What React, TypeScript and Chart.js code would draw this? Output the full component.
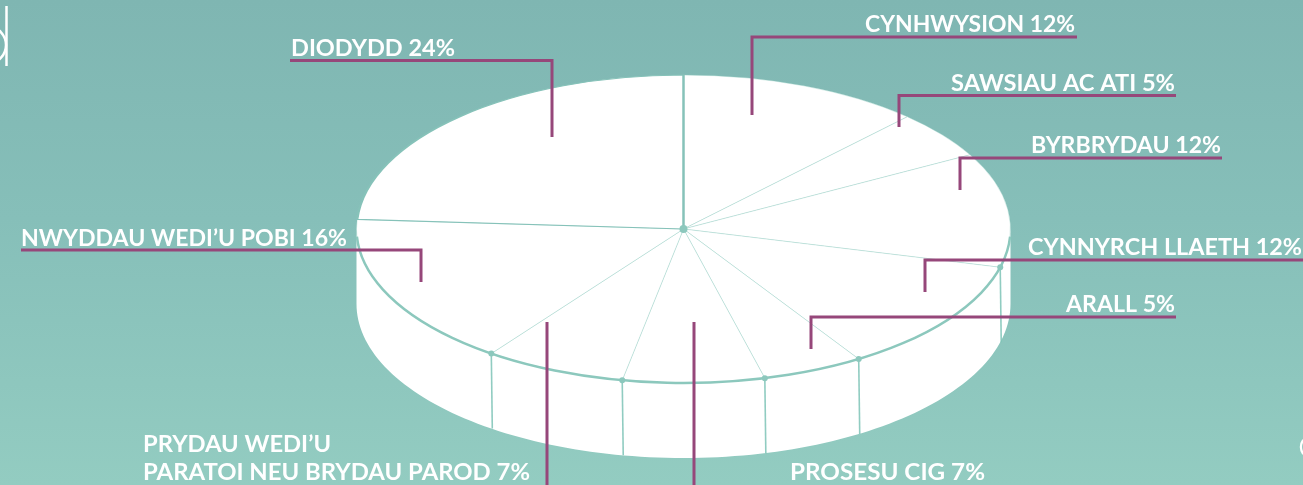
import React, { useEffect, useRef } from "react";
import { Chart, registerables } from "chart.js";

Chart.register(...registerables);

// ---- data ----
const categories: string[][] = [
  ["CYNHWYSION"],
  ["SAWSIAU AC ATI"],
  ["BYRBRYDAU"],
  ["CYNNYRCH LLAETH"],
  ["ARALL"],
  ["PROSESU CIG"],
  ["PRYDAU WEDI’U", "PARATOI NEU BRYDAU PAROD"],
  ["NWYDDAU WEDI’U POBI"],
  ["DIODYDD"],
];
const shares = [12, 5, 12, 12, 5, 7, 7, 16, 24];

// ---- layout (label placement, leader lines) ----
const labelLayout = [
  { left: 865, rights: [1075], baselines: [32], ax: 752, ay: 115, hy: 37, far: 1077 },
  { left: 951, rights: [1175], baselines: [91], ax: 899, ay: 127, hy: 95.5, far: 1176 },
  { left: 1031, rights: [1221], baselines: [153], ax: 960, ay: 190, hy: 158, far: 1222 },
  { left: 1028, rights: [1302], baselines: [254.5], ax: 925, ay: 292, hy: 260, far: 1303 },
  { left: 1066, rights: [1175], baselines: [311.5], ax: 811, ay: 349, hy: 317, far: 1176 },
  { left: 790, rights: [985], baselines: [480], ax: 694, ay: 322, hy: 495, far: 986 },
  { left: 143, rights: [331, 530], baselines: [452, 480], ax: 547, ay: 322, hy: 495, far: 143 },
  { left: 21, rights: [347], baselines: [245.5], ax: 421, ay: 282, hy: 250, far: 21 },
  { left: 291, rights: [455], baselines: [55.5], ax: 552, ay: 137, hy: 60.5, far: 290 },
];

const W = 1303;
const H = 485;
const RADIUS = 327;
const TILT = 154 / 327;
const DEPTH = 75;
const TEAL_EDGE = "#8cc8bd";
const LEADER = "#96477a";

function ellPt(cx: number, cy: number, r: number, a: number, dy = 0): [number, number] {
  return [cx + r * Math.cos(a), cy + r * TILT * Math.sin(a) + dy];
}

const tiltPlugin = {
  id: "tilt3d",
  beforeDatasetsDraw(chart: any) {
    const meta = chart.getDatasetMeta(0);
    const ctx: CanvasRenderingContext2D = chart.ctx;
    const el = meta.data[0];
    const cx = el.x, cy = el.y, R = el.outerRadius;
    // side wall
    ctx.save();
    ctx.beginPath();
    const N = 120;
    for (let i = 0; i <= N; i++) {
      const a = (Math.PI * i) / N;
      const [x, y] = ellPt(cx, cy, R, a);
      if (i === 0) ctx.moveTo(x, y); else ctx.lineTo(x, y);
    }
    for (let i = N; i >= 0; i--) {
      const a = (Math.PI * i) / N;
      const [x, y] = ellPt(cx, cy, R, a, DEPTH);
      ctx.lineTo(x, y);
    }
    ctx.closePath();
    ctx.fillStyle = "#ffffff";
    ctx.fill();
    // separators on the wall
    ctx.strokeStyle = "rgba(125,195,182,0.85)";
    ctx.lineWidth = 1.6;
    meta.data.forEach((arc: any) => {
      let b = arc.startAngle % (2 * Math.PI);
      if (b < 0) b += 2 * Math.PI;
      if (b > 0.02 && b < Math.PI - 0.02) {
        const [x0, y0] = ellPt(cx, cy, R, b);
        const [x1, y1] = ellPt(cx, cy, R, b, DEPTH);
        ctx.beginPath();
        ctx.moveTo(x0, y0);
        ctx.lineTo(x1 + 1, y1);
        ctx.stroke();
      }
    });
    ctx.restore();
    // squash the top face
    ctx.save();
    ctx.translate(cx, cy);
    ctx.scale(1, TILT);
    ctx.translate(-cx, -cy);
  },
  afterDatasetsDraw(chart: any) {
    const ctx: CanvasRenderingContext2D = chart.ctx;
    ctx.restore();
    const meta = chart.getDatasetMeta(0);
    const el = meta.data[0];
    const cx = el.x, cy = el.y, R = el.outerRadius;
    ctx.save();
    ctx.strokeStyle = TEAL_EDGE;
    ctx.lineWidth = 2.5;
    ctx.beginPath();
    ctx.ellipse(cx, cy, R, R * TILT, 0, 0.05, Math.PI - 0.05);
    ctx.stroke();
    ctx.fillStyle = TEAL_EDGE;
    meta.data.forEach((arc: any) => {
      let b = arc.startAngle % (2 * Math.PI);
      if (b < 0) b += 2 * Math.PI;
      if (b > 0.02 && b < Math.PI - 0.02) {
        const [x0, y0] = ellPt(cx, cy, R, b);
        ctx.beginPath();
        ctx.arc(x0, y0, 3, 0, Math.PI * 2);
        ctx.fill();
      }
    });
    ctx.beginPath();
    ctx.arc(cx, cy, 4, 0, Math.PI * 2);
    ctx.fill();
    ctx.restore();
  },
};

const labelPlugin = {
  id: "calloutLabels",
  afterDraw(chart: any) {
    const ctx: CanvasRenderingContext2D = chart.ctx;
    ctx.save();
    // leader lines
    ctx.strokeStyle = LEADER;
    ctx.lineWidth = 3;
    ctx.lineJoin = "miter";
    ctx.lineCap = "butt";
    labelLayout.forEach((L) => {
      ctx.beginPath();
      ctx.moveTo(L.ax, L.ay);
      ctx.lineTo(L.ax, L.hy);
      ctx.lineTo(L.far, L.hy);
      ctx.stroke();
    });
    // texts
    ctx.fillStyle = "#ffffff";
    ctx.font = "bold 22px Lato";
    ctx.textBaseline = "alphabetic";
    ctx.textAlign = "left";
    categories.forEach((lines, i) => {
      const L = labelLayout[i];
      lines.forEach((line, j) => {
        const text = j === lines.length - 1 ? `${line} ${shares[i]}%` : line;
        const w = ctx.measureText(text).width;
        const target = L.rights[j] - L.left;
        const sx = target / w;
        ctx.save();
        ctx.translate(L.left, L.baselines[j]);
        ctx.scale(sx, 1);
        ctx.fillText(text, 0, 0);
        ctx.restore();
      });
    });
    // cropped logo fragments at the edges
    ctx.strokeStyle = "#ffffff";
    ctx.lineWidth = 2.5;
    ctx.beginPath();
    ctx.moveTo(6.5, 6);
    ctx.lineTo(6.5, 66);
    ctx.stroke();
    ctx.beginPath();
    ctx.ellipse(-11, 45, 17, 18, 0, -Math.PI / 2, Math.PI / 2);
    ctx.stroke();
    ctx.beginPath();
    ctx.ellipse(1313, 447, 12, 12, 0, Math.PI * 0.8, Math.PI * 1.2);
    ctx.stroke();
    ctx.restore();
  },
};

export default function App() {
  const ref = useRef<HTMLCanvasElement | null>(null);
  useEffect(() => {
    if (!ref.current) return;
    const n = shares.length;
    const chart = new Chart(ref.current, {
      type: "pie",
      data: {
        labels: categories.map((c) => c.join(" ")),
        datasets: [
          {
            data: shares,
            backgroundColor: "#ffffff",
            borderColor: shares.map((_, i) => (i === n - 1 ? "#86c2b9" : "rgba(150,205,195,0.5)")),
            borderWidth: shares.map((_, i) => (i === n - 1 ? 2.5 : 1)),
            radius: RADIUS,
            clip: false,
          } as any,
        ],
      },
      options: {
        responsive: false,
        animation: false,
        events: [],
        radius: RADIUS,
        layout: { padding: { left: 64, right: 0, top: 0, bottom: 27 } },
        plugins: { legend: { display: false }, tooltip: { enabled: false } },
      } as any,
      plugins: [tiltPlugin, labelPlugin],
    });
    return () => chart.destroy();
  }, []);
  return (
    <div
      style={{
        position: "fixed",
        left: 0,
        top: 0,
        width: W,
        height: H,
        overflow: "hidden",
        background: "linear-gradient(180deg, #7fb6b2 0%, #86bfb9 45%, #93ccc1 100%)",
      }}
    >
      <canvas ref={ref} width={W} height={H} style={{ display: "block", width: W, height: H }} />
    </div>
  );
}
